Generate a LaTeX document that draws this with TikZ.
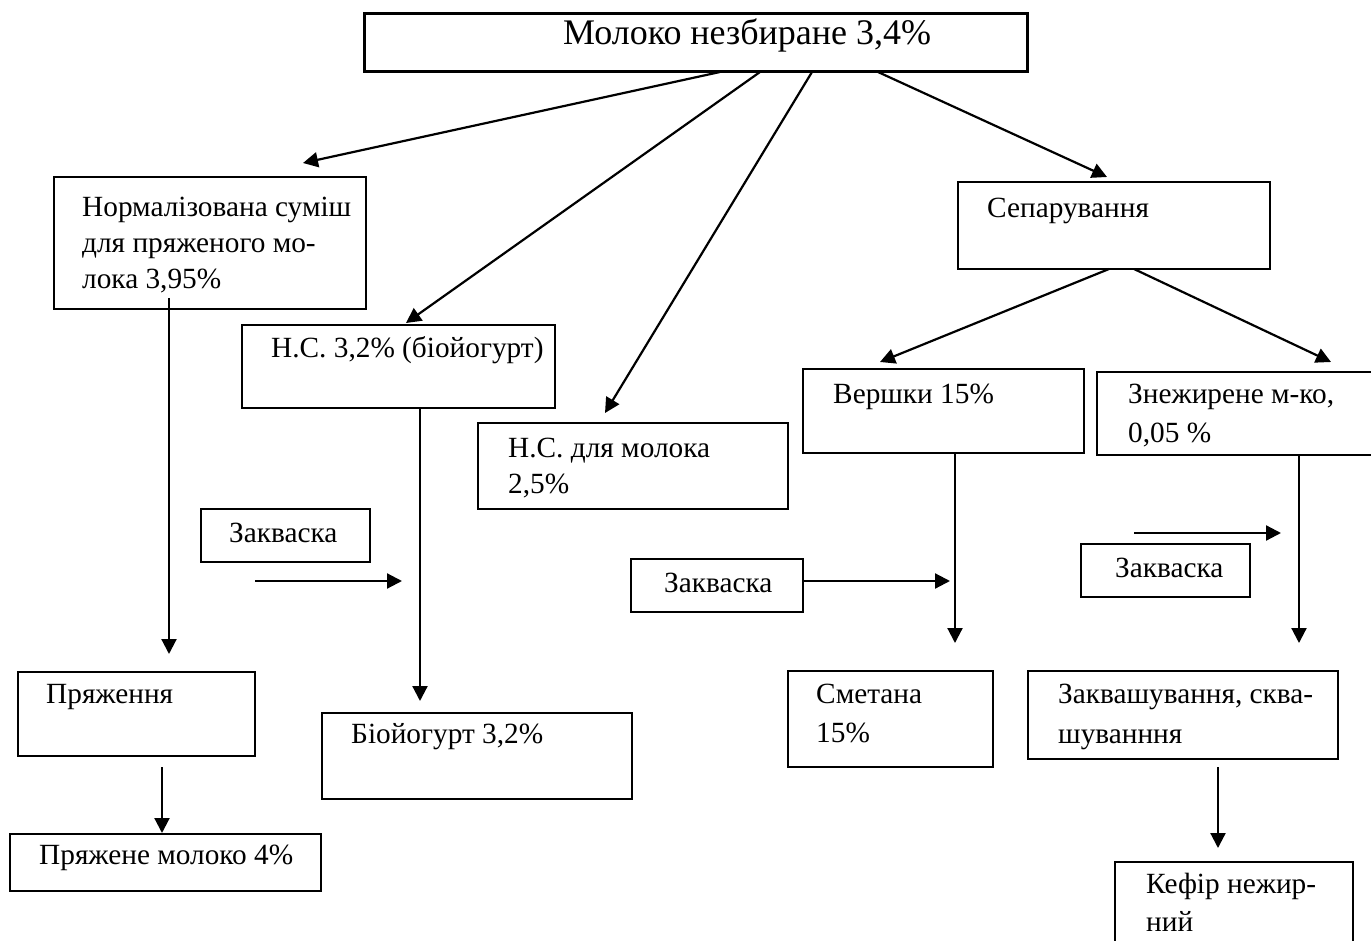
\documentclass[tikz,border=0pt]{standalone}
\usepackage{fontspec}
\setmainfont{Liberation Serif}
\usetikzlibrary{arrows.meta}
\begin{document}
\begin{tikzpicture}[x=1pt,y=-1pt,
  box/.style={draw, line width=1.4pt, rectangle, inner sep=0pt, outer sep=0pt, anchor=north west},
  txt/.style={inner sep=0pt, anchor=base west, align=left, font=\fontsize{29.3}{39}\selectfont},
  arr/.style={line width=2.2pt, -{Triangle[length=15pt,width=15pt]}},
]
\useasboundingbox (0,0) rectangle (1371,941);
\clip (0,0) rectangle (1371,941);
\fill[white] (0,0) rectangle (1371,941);
% boxes
\node[box, line width=3pt, minimum width=663pt, minimum height=58pt] (top) at (364,14) {};
\node[box, minimum width=312pt, minimum height=132pt] (norm) at (54,177) {};
\node[box, minimum width=313pt, minimum height=83pt] (ns32) at (242,325) {};
\node[box, minimum width=310pt, minimum height=86pt] (nsm) at (478,423) {};
\node[box, minimum width=312pt, minimum height=87pt] (sep) at (958,182) {};
\node[box, minimum width=281pt, minimum height=84pt] (versh) at (803,369) {};
\node[box, minimum width=283pt, minimum height=83pt] (znezh) at (1097,372) {};
\node[box, minimum width=169pt, minimum height=53pt] (zak1) at (201,509) {};
\node[box, minimum width=172pt, minimum height=53pt] (zak2) at (631,559) {};
\node[box, minimum width=169pt, minimum height=53pt] (zak3) at (1081,544) {};
\node[box, minimum width=237pt, minimum height=84pt] (pryazh) at (18,672) {};
\node[box, minimum width=311pt, minimum height=57pt] (pryazhm) at (10,834) {};
\node[box, minimum width=310pt, minimum height=86pt] (bio) at (322,713) {};
\node[box, minimum width=205pt, minimum height=96pt] (smet) at (788,671) {};
\node[box, minimum width=310pt, minimum height=88pt] (zakv) at (1028,671) {};
\node[box, minimum width=238pt, minimum height=118pt] (kefir) at (1115,862) {};
% texts (multi-line nodes are placed at the baseline of their last line)
\node[txt, font=\fontsize{36}{42}\selectfont] (topt) at (563,45) {Молоко незбиране 3,4\%};
\node[txt, font=\fontsize{29.3}{36}\selectfont] (normt) at (82,289) {Нормалізована суміш\\для пряженого мо-\\лока 3,95\%};
\node[txt] (ns32t) at (271,358) {Н.С. 3,2\% (біойогурт)};
\node[txt, font=\fontsize{29.3}{36}\selectfont] (nsmt) at (508,493) {Н.С. для молока\\2,5\%};
\node[txt] (sept) at (987,218) {Сепарування};
\node[txt] (versht) at (833,403) {Вершки 15\%};
\node[txt] (znezht) at (1128,442) {Знежирене м-ко,\\0,05 \%};
\node[txt] (zak1t) at (229,542) {Закваска};
\node[txt] (zak2t) at (664,592) {Закваска};
\node[txt] (zak3t) at (1115,577) {Закваска};
\node[txt] (pryazht) at (46,703) {Пряження};
\node[txt] (pryazhmt) at (39,864) {Пряжене молоко 4\%};
\node[txt] (biot) at (351,743) {Біойогурт 3,2\%};
\node[txt] (smett) at (816,742) {Сметана\\15\%};
\node[txt, font=\fontsize{29.3}{40}\selectfont] (zakvt) at (1058,743) {Заквашування, сква-\\шуванння};
\node[txt, font=\fontsize{29.3}{38}\selectfont] (kefirt) at (1146,931) {Кефір нежир-\\ний};
% connectors
\draw[arr] ([xshift=356pt]top.south west) -- ([xshift=249pt,yshift=14pt]norm.north west);
\draw[arr] ([xshift=396pt]top.south west) -- ([xshift=164pt,yshift=2pt]ns32.north west);
\draw[arr] ([xshift=448pt]top.south west) -- ([xshift=127pt,yshift=10pt]nsm.north west);
\draw[arr] ([xshift=514pt]top.south west) -- ([xshift=149pt,yshift=5pt]sep.north west);
\draw[arr] ([xshift=151pt]sep.south west) -- ([xshift=77pt,yshift=7pt]versh.north west);
\draw[arr] ([xshift=176pt]sep.south west) -- ([xshift=234pt,yshift=10pt]znezh.north west);
\draw[arr] ([xshift=115pt,yshift=11pt]norm.south west) -- ([xshift=151pt,yshift=18pt]pryazh.north west);
\draw[arr] ([xshift=178pt]ns32.south west) -- ([xshift=98pt,yshift=12pt]bio.north west);
\draw[arr] ([xshift=152pt]versh.south west) -- ([xshift=167pt,yshift=28pt]smet.north west);
\draw[arr] ([xshift=202pt]znezh.south west) -- ([xshift=271pt,yshift=28pt]zakv.north west);
\draw[arr] ([xshift=144pt,yshift=-11pt]pryazh.south west) -- ([xshift=152pt,yshift=1pt]pryazhm.north west);
\draw[arr] ([xshift=190pt,yshift=-8pt]zakv.south west) -- ([xshift=103pt,yshift=14pt]kefir.north west);
\coordinate (h1s) at (255,581);
\coordinate (h1e) at (402,581);
\draw[arr] (h1s) -- (h1e);
\coordinate (h2e) at (950,581);
\draw[arr] ([yshift=4.5pt]zak2.east) -- (h2e);
\coordinate (h3s) at (1134,533);
\coordinate (h3e) at (1281,533);
\draw[arr] (h3s) -- (h3e);
\end{tikzpicture}
\end{document}
